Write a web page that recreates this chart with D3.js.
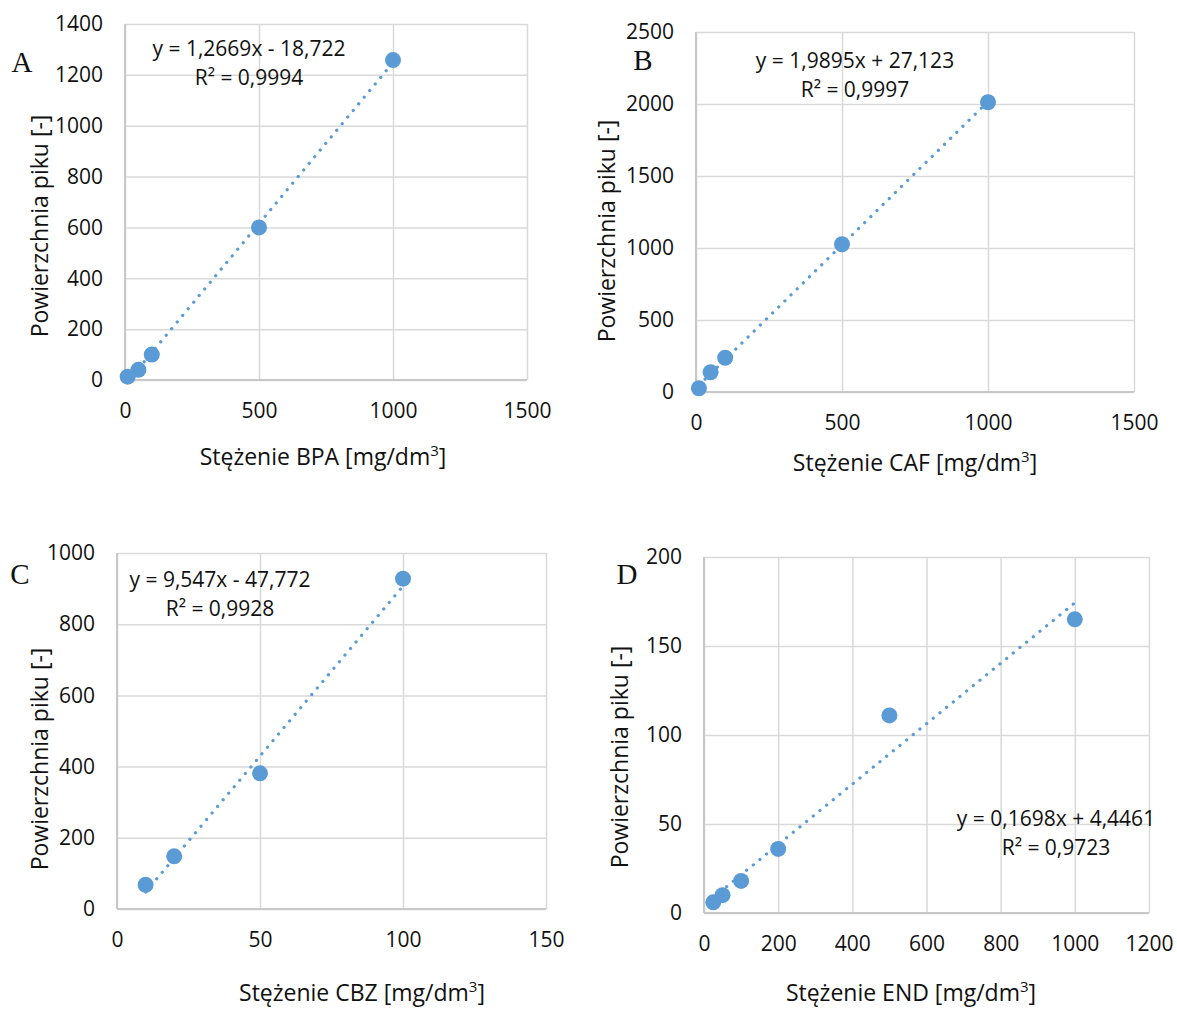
<!DOCTYPE html>
<html>
<head>
<meta charset="utf-8">
<script src="https://cdn.jsdelivr.net/npm/d3@7"></script>
<style>
  html, body { margin: 0; padding: 0; background: #fff; }
  svg text { font-family: "Open Sans", "Noto Sans", sans-serif; fill: #111; }
</style>
</head>
<body>
<svg id="chart" width="1177" height="1010"></svg>
<script>
// ---- Data ----
const bpaX = [10, 50, 100, 500, 1000];
const bpaY = [13, 40, 100, 600, 1258];
const cafX = [10, 50, 100, 500, 1000];
const cafY = [26, 137, 238, 1026, 2012];
const cbzX = [10, 20, 50, 100];
const cbzY = [68, 148, 381, 928];
const endX = [25, 50, 100, 200, 500, 1000];
const endY = [6, 10, 18, 36, 111, 165];

const bpaXTicks = [0, 500, 1000, 1500];
const bpaYTicks = [0, 200, 400, 600, 800, 1000, 1200, 1400];
const cafXTicks = [0, 500, 1000, 1500];
const cafYTicks = [0, 500, 1000, 1500, 2000, 2500];
const cbzXTicks = [0, 50, 100, 150];
const cbzYTicks = [0, 200, 400, 600, 800, 1000];
const endXTicks = [0, 200, 400, 600, 800, 1000, 1200];
const endYTicks = [0, 50, 100, 150, 200];

const bpaFit = [1.2669, -18.722];
const cafFit = [1.9895, 27.123];
const cbzFit = [9.547, -47.772];
const endFit = [0.1698, 4.4461];

const bpaEq = ["y = 1,2669x - 18,722", "R² = 0,9994"];
const cafEq = ["y = 1,9895x + 27,123", "R² = 0,9997"];
const cbzEq = ["y = 9,547x - 47,772", "R² = 0,9928"];
const endEq = ["y = 0,1698x + 4,4461", "R² = 0,9723"];

const panelLetters = ["A", "B", "C", "D"];
const xTitles = ["Stężenie BPA", "Stężenie CAF", "Stężenie CBZ", "Stężenie END"];
const yTitle = "Powierzchnia piku [-]";

// ---- Layout ----
const panels = [
  { xs: bpaX, ys: bpaY, xt: bpaXTicks, yt: bpaYTicks, fit: bpaFit, eq: bpaEq,
    L: 125, R: 527, T: 24, B: 380, eqX: 249, eqY: 56, letter: [22, 72], xTitleX: 323, xTitleY: 465, yTitleX: 48, yTitleY: 226 },
  { xs: cafX, ys: cafY, xt: cafXTicks, yt: cafYTicks, fit: cafFit, eq: cafEq,
    L: 696, R: 1134, T: 32, B: 392, eqX: 855, eqY: 68, letter: [643, 70], xTitleX: 915, xTitleY: 471, yTitleX: 615, yTitleY: 231 },
  { xs: cbzX, ys: cbzY, xt: cbzXTicks, yt: cbzYTicks, fit: cbzFit, eq: cbzEq,
    L: 117, R: 546, T: 553, B: 909, eqX: 220, eqY: 587, letter: [20, 584], xTitleX: 362, xTitleY: 1001, yTitleX: 48, yTitleY: 759 },
  { xs: endX, ys: endY, xt: endXTicks, yt: endYTicks, fit: endFit, eq: endEq,
    L: 704, R: 1149, T: 557, B: 913, eqX: 1056, eqY: 826, letter: [627, 584], xTitleX: 911, xTitleY: 1001, yTitleX: 628, yTitleY: 757 }
];

const svg = d3.select("#chart");
const blue = "#5B9BD5";
const grid = "#d9d9d9";

panels.forEach((p, i) => {
  const x = d3.scaleLinear().domain([p.xt[0], p.xt[p.xt.length - 1]]).range([p.L, p.R]);
  const y = d3.scaleLinear().domain([p.yt[0], p.yt[p.yt.length - 1]]).range([p.B, p.T]);
  const g = svg.append("g");

  // gridlines
  g.append("g").attr("transform", `translate(0,${p.B})`)
    .call(d3.axisBottom(x).tickValues(p.xt).tickSize(-(p.B - p.T)).tickFormat(""))
    .call(a => a.select(".domain").remove())
    .call(a => a.selectAll("line").attr("stroke", grid).attr("stroke-width", 1.5));
  g.append("g").attr("transform", `translate(${p.L},0)`)
    .call(d3.axisLeft(y).tickValues(p.yt).tickSize(-(p.R - p.L)).tickFormat(""))
    .call(a => a.select(".domain").remove())
    .call(a => a.selectAll("line").attr("stroke", grid).attr("stroke-width", 1.5));
  // axis lines
  g.append("line").attr("x1", p.L).attr("x2", p.R).attr("y1", p.B).attr("y2", p.B)
    .attr("stroke", "#c8c8c8").attr("stroke-width", 2);
  g.append("line").attr("x1", p.L).attr("x2", p.L).attr("y1", p.T).attr("y2", p.B)
    .attr("stroke", "#c8c8c8").attr("stroke-width", 2);

  // tick labels
  g.append("g").attr("transform", `translate(0,${p.B})`)
    .call(d3.axisBottom(x).tickValues(p.xt).tickSize(0).tickPadding(23).tickFormat(d3.format("d")))
    .call(a => a.select(".domain").remove())
    .call(a => a.selectAll("text").attr("font-size", 21).attr("fill", "#111")
      .attr("font-family", "'Open Sans', sans-serif"));
  g.append("g").attr("transform", `translate(${p.L},0)`)
    .call(d3.axisLeft(y).tickValues(p.yt).tickSize(0).tickPadding(22).tickFormat(d3.format("d")))
    .call(a => a.select(".domain").remove())
    .call(a => a.selectAll("text").attr("font-size", 21).attr("fill", "#111")
      .attr("font-family", "'Open Sans', sans-serif"));

  // trendline
  const x0 = d3.min(p.xs), x1 = d3.max(p.xs);
  g.append("line")
    .attr("x1", x(x0)).attr("y1", y(p.fit[0] * x0 + p.fit[1]))
    .attr("x2", x(x1)).attr("y2", y(p.fit[0] * x1 + p.fit[1]))
    .attr("stroke", blue).attr("stroke-width", 3.2)
    .attr("stroke-linecap", "round").attr("stroke-dasharray", "0.1 8.5");

  // points
  g.selectAll("circle.pt").data(p.xs.map((v, k) => [v, p.ys[k]])).join("circle")
    .attr("class", "pt").attr("cx", d => x(d[0])).attr("cy", d => y(d[1]))
    .attr("r", 8).attr("fill", blue);

  // equation
  g.append("text").attr("x", p.eqX).attr("y", p.eqY).attr("text-anchor", "middle")
    .attr("font-size", 21).text(p.eq[0]);
  g.append("text").attr("x", p.eqX).attr("y", p.eqY + 29).attr("text-anchor", "middle")
    .attr("font-size", 21).text(p.eq[1]);

  // panel letter
  g.append("text").attr("x", p.letter[0]).attr("y", p.letter[1]).attr("text-anchor", "middle")
    .attr("font-size", 29).style("font-family", "'Liberation Serif', 'Times New Roman', serif")
    .text(panelLetters[i]);

  // x title
  const xtEl = g.append("text").attr("x", p.xTitleX).attr("y", p.xTitleY).attr("text-anchor", "middle")
    .attr("font-size", 23);
  xtEl.append("tspan").text(xTitles[i] + " [mg/dm");
  xtEl.append("tspan").attr("font-size", 15).attr("dy", -9).text("3");
  xtEl.append("tspan").attr("dy", 9).text("]");

  // y title
  g.append("text").attr("transform", `translate(${p.yTitleX},${p.yTitleY}) rotate(-90)`)
    .attr("text-anchor", "middle").attr("font-size", 23).text(yTitle);
});
</script>
</body>
</html>
